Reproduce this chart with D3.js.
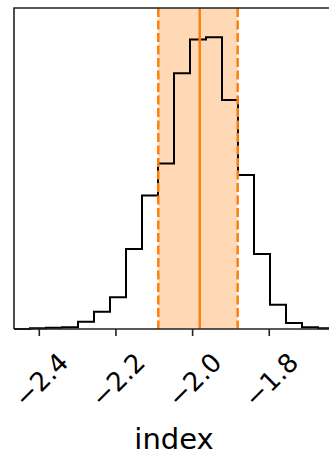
<!DOCTYPE html>
<html>
<head>
<meta charset="utf-8">
<script src="https://cdn.jsdelivr.net/npm/d3@7"></script>
<style>
  html, body { margin: 0; padding: 0; background: #fff; }
  svg { display: block; font-family: "DejaVu Sans", sans-serif; }
</style>
</head>
<body>
<svg id="chart" width="329" height="455"></svg>
<script>
// Posterior samples of "index", binned into 20 equal bins
const binRange = [-2.466, -1.6311];
const binCounts = [0, 2, 4, 5, 22, 52, 95, 240, 400, 496, 767, 868, 875, 687, 462, 225, 73, 18, 5, 2];
// 16th / 50th / 84th percentiles
const quantiles = [-2.0895, -1.9815, -1.8824];
const tickValues = [-2.4, -2.2, -2.0, -1.8];
const axisLabel = "index";

const orange = "#ff7f0e";
const svg = d3.select("#chart");
const plot = { left: 14, right: 334, top: 8, bottom: 329 };

const x = d3.scaleLinear().domain(binRange).range([plot.left, plot.right]);
const y = d3.scaleLinear().domain([0, 1.1 * d3.max(binCounts)]).range([plot.bottom, plot.top]);

const nb = binCounts.length;
const edges = d3.range(nb + 1).map(i => binRange[0] + (binRange[1] - binRange[0]) * i / nb);

// shaded credible interval
svg.append("rect")
  .attr("x", x(quantiles[0]))
  .attr("y", plot.top)
  .attr("width", x(quantiles[2]) - x(quantiles[0]))
  .attr("height", plot.bottom - plot.top)
  .attr("fill", orange)
  .attr("fill-opacity", 0.3);

// step histogram
const pts = [[edges[0], 0]];
binCounts.forEach((c, i) => { pts.push([edges[i], c]); pts.push([edges[i + 1], c]); });
pts.push([edges[nb], 0]);
svg.append("path")
  .attr("d", d3.line().x(d => x(d[0])).y(d => y(d[1]))(pts))
  .attr("fill", "none")
  .attr("stroke", "#000")
  .attr("stroke-width", 2);

// percentile lines
quantiles.forEach((q, i) => {
  svg.append("line")
    .attr("x1", x(q)).attr("x2", x(q))
    .attr("y1", plot.top).attr("y2", plot.bottom)
    .attr("stroke", orange)
    .attr("stroke-width", 2.5)
    .attr("stroke-dasharray", i === 1 ? null : "9,3.5");
});

// spines
svg.append("path")
  .attr("d", `M${plot.left},${plot.bottom}V${plot.top}H${plot.right}`)
  .attr("fill", "none").attr("stroke", "#222").attr("stroke-width", 1.6);
svg.append("line")
  .attr("x1", plot.left).attr("x2", plot.right)
  .attr("y1", plot.bottom).attr("y2", plot.bottom)
  .attr("stroke", "#222").attr("stroke-width", 1.6);

// x axis ticks and rotated labels
const fmt = d3.format(".1f");
const gx = svg.append("g");
tickValues.forEach(t => {
  gx.append("line")
    .attr("x1", x(t)).attr("x2", x(t))
    .attr("y1", plot.bottom).attr("y2", plot.bottom + 7)
    .attr("stroke", "#222").attr("stroke-width", 1.6);
  gx.append("text")
    .attr("transform", `translate(${x(t) + 2},380) rotate(-45)`)
    .attr("text-anchor", "middle")
    .attr("dominant-baseline", "central")
    .attr("font-size", 26)
    .attr("fill", "#000")
    .text(fmt(t));
});

svg.append("text")
  .attr("x", (plot.left + plot.right) / 2)
  .attr("y", 449)
  .attr("text-anchor", "middle")
  .attr("font-size", 29)
  .attr("fill", "#000")
  .text(axisLabel);
</script>
</body>
</html>
